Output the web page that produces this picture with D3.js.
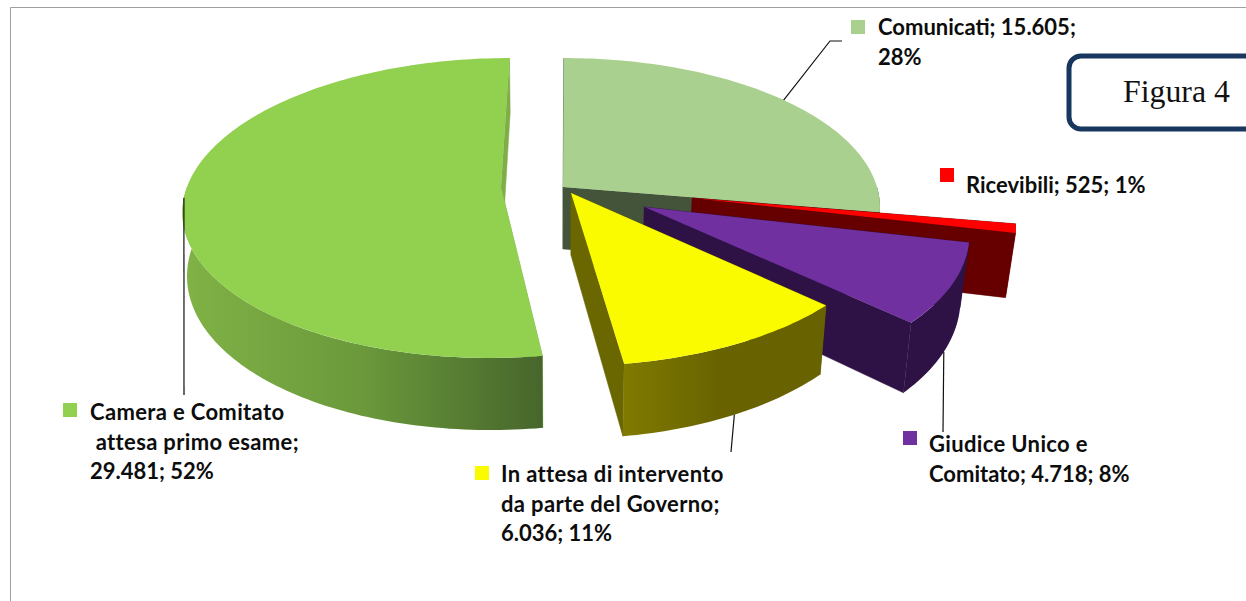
<!DOCTYPE html>
<html>
<head>
<meta charset="utf-8">
<script src="https://cdn.jsdelivr.net/npm/d3@7"></script>
<style>
  html, body { margin: 0; padding: 0; background: #fff; overflow: hidden; }
  .label { font-family: Lato, "Open Sans", sans-serif; font-weight: 700; font-size: 22px; fill: #0d0d0d; }
</style>
</head>
<body>
<div id="chart"></div>
<script>
// values, clockwise from 12 o'clock
var categories = ["Comunicati", "Ricevibili", "Giudice Unico e Comitato", "In attesa di intervento da parte del Governo", "Camera e Comitato attesa primo esame"];
var values = [15605, 525, 4718, 6036, 29481];
var colors = ["#a9d08e", "#ff0000", "#7030a0", "#fbfb00", "#92d050"];
var wallColors = ["#44543a", "#660000", "#2e1245", "#6a6600", "#7fae48"];

var width = 1246;
var height = 601;

/* pie geometry: radius in px, vertical radius, perspective */
var centerX = 570;
var centerY = 187;
var radius = 314;
var radiusZ = 147;
var persp = 0.14;
var depth = 62;
var shrinkRight = 0.0225;
var shrinkLeft = 0.012;

/* how far each slice is pulled out [px, radius units] */
var explode = [[-7, 0], [121, 0.074], [73, 0.134], [1, 0.04], [-69, 0]];

/* wrapped label lines, leader line end and legend box position */
var labelLayout = [
  {x: 878, y: 35, box: [851, 20], lines: ["Comunicati; {v};", "{p}"], lead: [[830, 41], [842, 41]], from: "top"},
  {x: 966, y: 193, box: [940, 168], lines: ["Ricevibili; {v}; {p}"], lead: null},
  {x: 929, y: 452, box: [903, 431], lines: ["Giudice Unico e", "Comitato; {v}; {p}"], lead: [[943, 432]], from: "bottom"},
  {x: 501, y: 482, box: [475, 466], lines: ["In attesa di intervento", "da parte del Governo;", "{v}; {p}"], lead: [[731, 452]], from: "bottom"},
  {x: 90, y: 420, box: [63, 403], lines: ["Camera e Comitato", " attesa primo esame;", "{v}; {p}"], lead: [[184, 395]], from: "top"}
];

var itLocale = d3.formatLocale({decimal: ",", thousands: ".", grouping: [3], currency: ["€", ""]});
var fmtValue = itLocale.format(",d");
var fmtPct = d3.format(".0%");
var total = d3.sum(values);

var svg = d3.select("#chart").append("svg")
  .attr("width", width)
  .attr("height", height)
  .style("display", "block");

var defs = svg.append("defs");

function rimGradient(id, x1, x2, stops) {
  var g = defs.append("linearGradient")
    .attr("id", id)
    .attr("gradientUnits", "userSpaceOnUse")
    .attr("x1", x1).attr("x2", x2)
    .attr("y1", 0).attr("y2", 0);
  stops.forEach(function(s) {
    g.append("stop").attr("offset", s[0]).attr("stop-color", s[1]);
  });
}
rimGradient("rimCamera", 185, 545, [[0, "#80b246"], [0.5, "#6a983b"], [1, "#46652b"]]);
rimGradient("rimAttesa", 624, 720, [[0, "#807a00"], [1, "#686300"]]);
var rimFill = ["#44543a", "#660000", "#2e1245", "url(#rimAttesa)", "url(#rimCamera)"];

// top surface point
function topPoint(i, u, v) {
  var z = explode[i][1] + v;
  var s = 1 / (1 - persp * z);
  return [centerX + (explode[i][0] + radius * u) * s, centerY + radiusZ * z * s];
}

// same point on the bottom surface
function bottomPoint(i, u, v) {
  var z = explode[i][1] + v;
  var s = 1 / (1 - persp * z);
  var p = topPoint(i, u, v);
  var shrink = p[0] < centerX ? shrinkLeft : shrinkRight;
  return [p[0] - (p[0] - centerX) * shrink, p[1] + depth * s];
}

function rimPoints(i, a0, a1, fn) {
  var n = Math.max(2, Math.ceil((a1 - a0) / 0.02));
  return d3.range(n + 1).map(function(k) {
    var a = a0 + (a1 - a0) * k / n;
    return fn(i, Math.sin(a), -Math.cos(a));
  });
}

var pie = d3.pie().sort(null).value(function(d) { return d; });
var arcs = pie(values);
var path = d3.line();

// painter's order is the slice order, the big slice goes last
var slices = svg.append("g").attr("class", "slices")
  .selectAll("g")
  .data(arcs).enter()
  .append("g")
  .attr("class", "slice");

slices.each(function(d, i) {
  var g = d3.select(this);
  var topRim = rimPoints(i, d.startAngle, d.endAngle, topPoint);
  var botRim = rimPoints(i, d.startAngle, d.endAngle, bottomPoint);
  var topApex = topPoint(i, 0, 0);
  var botApex = bottomPoint(i, 0, 0);

  // two straight walls
  [[topRim[0], botRim[0]], [topRim[topRim.length - 1], botRim[botRim.length - 1]]].forEach(function(e) {
    g.append("path")
      .attr("d", path([topApex, e[0], e[1], botApex]) + "Z")
      .attr("fill", wallColors[i])
      .attr("stroke", wallColors[i])
      .attr("stroke-width", 0.5);
  });

  // curved wall, only the part that faces the viewer
  var a0 = Math.max(d.startAngle, Math.PI / 2);
  var a1 = Math.min(d.endAngle, Math.PI * 1.5);
  var frontTop = rimPoints(i, a0, a1, topPoint);
  var frontBot = rimPoints(i, a0, a1, bottomPoint);
  g.append("path")
    .attr("d", path(frontTop.concat(frontBot.slice().reverse())) + "Z")
    .attr("fill", rimFill[i]);

  // top
  g.append("path")
    .attr("d", path([topApex].concat(topRim)) + "Z")
    .attr("fill", colors[i]);
});

/* leader lines start on the rim at the middle of the slice */
var leaders = svg.append("g").attr("class", "leaders");
arcs.forEach(function(d, i) {
  var l = labelLayout[i];
  if (!l.lead) return;
  var mid = (d.startAngle + d.endAngle) / 2;
  var fn = l.from === "top" ? topPoint : bottomPoint;
  var start = fn(i, Math.sin(mid), -Math.cos(mid));
  leaders.append("path")
    .attr("d", path([start].concat(l.lead)))
    .attr("fill", "none")
    .attr("stroke", "#111")
    .attr("stroke-width", 1.2);
});

/* legend squares and labels */
var labels = svg.append("g").attr("class", "labels");
categories.forEach(function(c, i) {
  var l = labelLayout[i];
  labels.append("rect")
    .attr("x", l.box[0])
    .attr("y", l.box[1])
    .attr("width", 14)
    .attr("height", 14)
    .attr("fill", colors[i]);
  l.lines.forEach(function(line, k) {
    // Lato letters run a bit narrower than the original font, digits do not
    var wordsOnly = line.indexOf("{") < 0;
    labels.append("text")
      .attr("class", "label")
      .attr("x", l.x)
      .attr("y", l.y + k * 29.5)
      .style("white-space", "pre")
      .style("letter-spacing", wordsOnly ? "0.35px" : null)
      .text(line.replace("{v}", fmtValue(values[i])).replace("{p}", fmtPct(values[i] / total)));
  });
});

/* chart frame */
svg.append("path")
  .attr("d", "M10.5,601V7.5H1246")
  .attr("fill", "none")
  .attr("stroke", "#a0a0a0")
  .attr("stroke-width", 1);

/* figure tag */
svg.append("rect")
  .attr("x", 1069)
  .attr("y", 56)
  .attr("width", 220)
  .attr("height", 73)
  .attr("rx", 12)
  .attr("fill", "#fff")
  .attr("stroke", "#17375e")
  .attr("stroke-width", 5);

svg.append("text")
  .attr("x", 1123)
  .attr("y", 102)
  .attr("font-family", "'Liberation Serif', serif")
  .attr("font-size", 31.8)
  .attr("fill", "#111")
  .text("Figura 4");
</script>
</body>
</html>
